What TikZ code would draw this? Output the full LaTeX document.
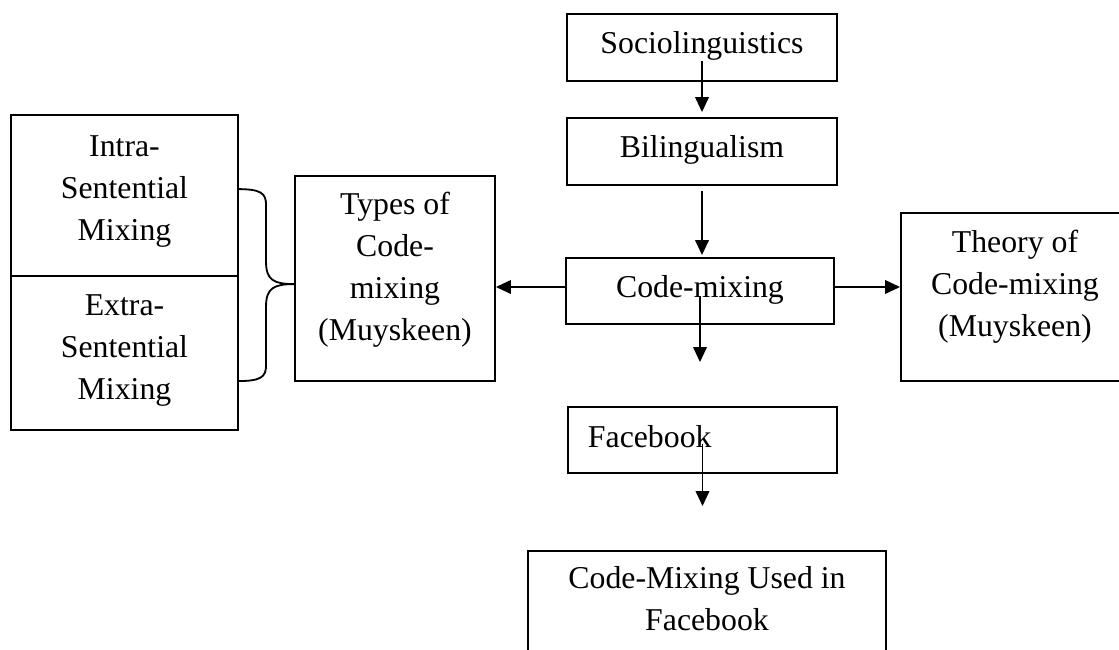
\documentclass[tikz,border=0pt]{standalone}
\usepackage{fontspec}
\setmainfont{Liberation Serif}
\usetikzlibrary{arrows.meta}

\begin{document}
\begin{tikzpicture}[x=0.025cm,y=-0.025cm,line width=1.3pt,
  box/.style={draw,inner sep=0pt,align=flush center,font=\fontsize{22.6}{29.8}\selectfont},
  arr/.style={-{Triangle[length=0.375cm,width=0.34cm]}}]
\useasboundingbox (0,0) rectangle (1119,650);
\node[box,text width=6.75cm,text height=0.975cm,text depth=0.7cm] (socio) at (702,47.5) {Sociolinguistics};
\node[box,text width=6.75cm,text height=0.975cm,text depth=0.7cm] (bil) at (702,151.5) {Bilingualism};
\node[box,text width=6.7cm,text height=0.975cm,text depth=0.675cm] (code) at (700,291) {Code-mixing};
\node[box,inner xsep=0.5cm,text width=5.725cm,align=flush left,text height=1cm,text depth=0.65cm] (face) at (702.5,440) {Facebook};
\node[box,text width=8.95cm,text height=0.95cm,text depth=3.75cm] (cmuf) at (707,645) {Code-Mixing Used in\\Facebook};
\node[box,text width=5cm,text height=0.975cm,text depth=4.15cm] (types) at (395,278.5) {Types of\\Code-\\mixing\\(Muyskeen)};
\node[box,text width=5.7cm,text height=1cm,text depth=3.2cm] (theory) at (1015,297) {Theory of\\Code-mixing\\(Muyskeen)};
\node[box,text width=5.675cm,text height=1.05cm,text depth=2.975cm] (intra) at (124.5,195.5) {Intra-\\Sentential\\Mixing};
\node[box,text width=5.675cm,text height=1cm,text depth=2.85cm] (extra) at (124.5,353) {Extra-\\Sentential\\Mixing};
\draw[arr] ([yshift=0.525cm]socio.south) -- ([yshift=0.125cm]bil.north);
\draw[arr] ([yshift=-0.125cm]bil.south) -- ([yshift=0.05cm]bil.south |- code.north);
\draw[arr] ([yshift=0.725cm]code.south) -- ([yshift=1.1cm]code.south |- face.north);
\draw[arr] ([yshift=0.75cm]face.south) -- ([yshift=1.1cm]face.south |- cmuf.north);
\coordinate (cl) at ([yshift=0.1cm]code.west);
\coordinate (cr) at ([yshift=0.1cm]code.east);
\draw[arr] (cl) -- (cl -| types.east);
\draw[arr] (cr) -- (cr -| theory.west);
% brace
\coordinate (bt) at ([yshift=-0.14cm]types.west);
\draw[shift={(bt)}] (-57,-95) .. controls (-33,-95) and (-28,-91) .. (-28,-79) -- (-28,-22)
  .. controls (-28,-4) and (-20,0) .. (0,0)
  .. controls (-20,0) and (-28,4) .. (-28,22) -- (-28,81)
  .. controls (-28,93) and (-33,97) .. (-57,97);
\end{tikzpicture}
\end{document}
